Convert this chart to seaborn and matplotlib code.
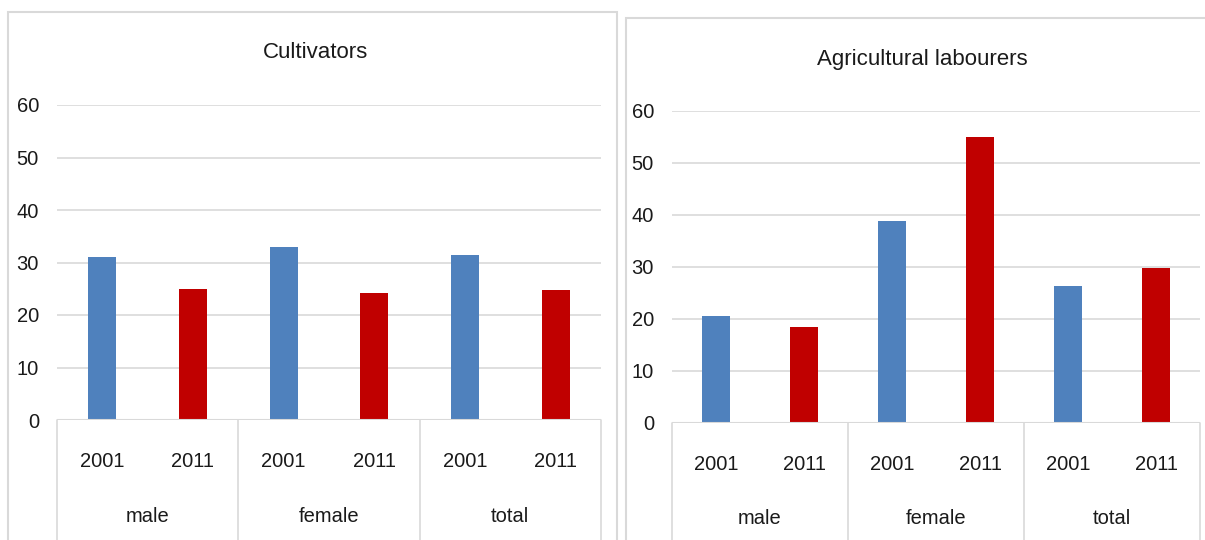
import pandas as pd
import matplotlib
matplotlib.use("Agg")
import matplotlib.pyplot as plt
import matplotlib.transforms as mtransforms
from matplotlib.patches import Rectangle
import seaborn as sns

# -----------------------------
# Data
# -----------------------------
groups = ["male", "female", "total"]
years = ["2001", "2011"]
cultivators = [31.1, 24.9, 33.0, 24.1, 31.5, 24.75]
labourers = [20.6, 18.4, 38.8, 55.0, 26.3, 29.8]
titles = ["Cultivators", "Agricultural labourers"]
y_ticks = [0, 10, 20, 30, 40, 50, 60]

BLUE = "#4F81BD"
RED = "#C00000"
GRID = "#d9d9d9"
TEXT = "#1a1a1a"

sns.set_theme(style="white")
plt.rcParams["font.family"] = ["Liberation Sans", "DejaVu Sans"]

W, H = 1205, 540
fig = plt.figure(figsize=(W / 100, H / 100), dpi=100)


def px_axes(x0, y0, x1, y1):
    """axes from pixel box (top-left origin)"""
    return fig.add_axes([x0 / W, (H - y1) / H, (x1 - x0) / W, (y1 - y0) / H])


def panel_box(x0, y0, x1, y1):
    rect = Rectangle((x0 / W, (H - y1) / H), (x1 - x0) / W, (y1 - y0) / H,
                     transform=fig.transFigure, fill=False, edgecolor=GRID, lw=1.5)
    fig.patches.append(rect)


def draw_panel(ax, values, title, title_pos):
    df = pd.DataFrame({
        "slot": [f"{g} {y}" for g in groups for y in years],
        "year": [y for g in groups for y in years],
        "value": values,
    })
    sns.barplot(data=df, x="slot", y="value", hue="year", dodge=False,
                palette={"2001": BLUE, "2011": RED}, width=0.31, saturation=1,
                linewidth=0, legend=False, ax=ax)
    ax.set_ylim(0, 60)
    ax.set_xlim(-0.5, 5.5)
    ax.set_yticks(y_ticks)
    ax.set_yticklabels([str(t) for t in y_ticks], fontsize=14.5, color=TEXT)
    ax.set_xticks(range(6))
    ax.set_xticklabels(df["year"], fontsize=14.5, color=TEXT)
    ax.tick_params(axis="x", length=0, pad=23)
    ax.tick_params(axis="y", length=0, pad=13)
    ax.set_xlabel("")
    ax.set_ylabel("")
    for s in ax.spines.values():
        s.set_visible(False)
    ax.yaxis.grid(True, color=GRID, lw=1.2)
    ax.set_axisbelow(True)
    ax.axhline(0, color=GRID, lw=1.5, zorder=3)

    # multi-level category axis
    trans = mtransforms.blended_transform_factory(ax.transData, ax.transAxes)
    for xs in [-0.5, 1.5, 3.5, 5.5]:
        ax.plot([xs, xs], [0, -0.6], color=GRID, lw=1.2, transform=trans, clip_on=False)
    for i, g in enumerate(groups):
        ax.text(2 * i + 0.5, -0.305, g, transform=trans, ha="center", va="center",
                fontsize=14.5, color=TEXT)
    fig.text(title_pos[0] / W, (H - title_pos[1]) / H, title, ha="center", va="center",
             fontsize=16, color=TEXT)


# -----------------------------
# Panels
# -----------------------------
panel_box(8, 12, 617, 560)
panel_box(626, 18, 1220, 560)

ax1 = px_axes(57, 105, 601, 420)
ax2 = px_axes(672, 110.5, 1200, 423)

draw_panel(ax1, cultivators, titles[0], (315, 53))
draw_panel(ax2, labourers, titles[1], (922, 60))

fig.savefig("out.png", dpi=100)
